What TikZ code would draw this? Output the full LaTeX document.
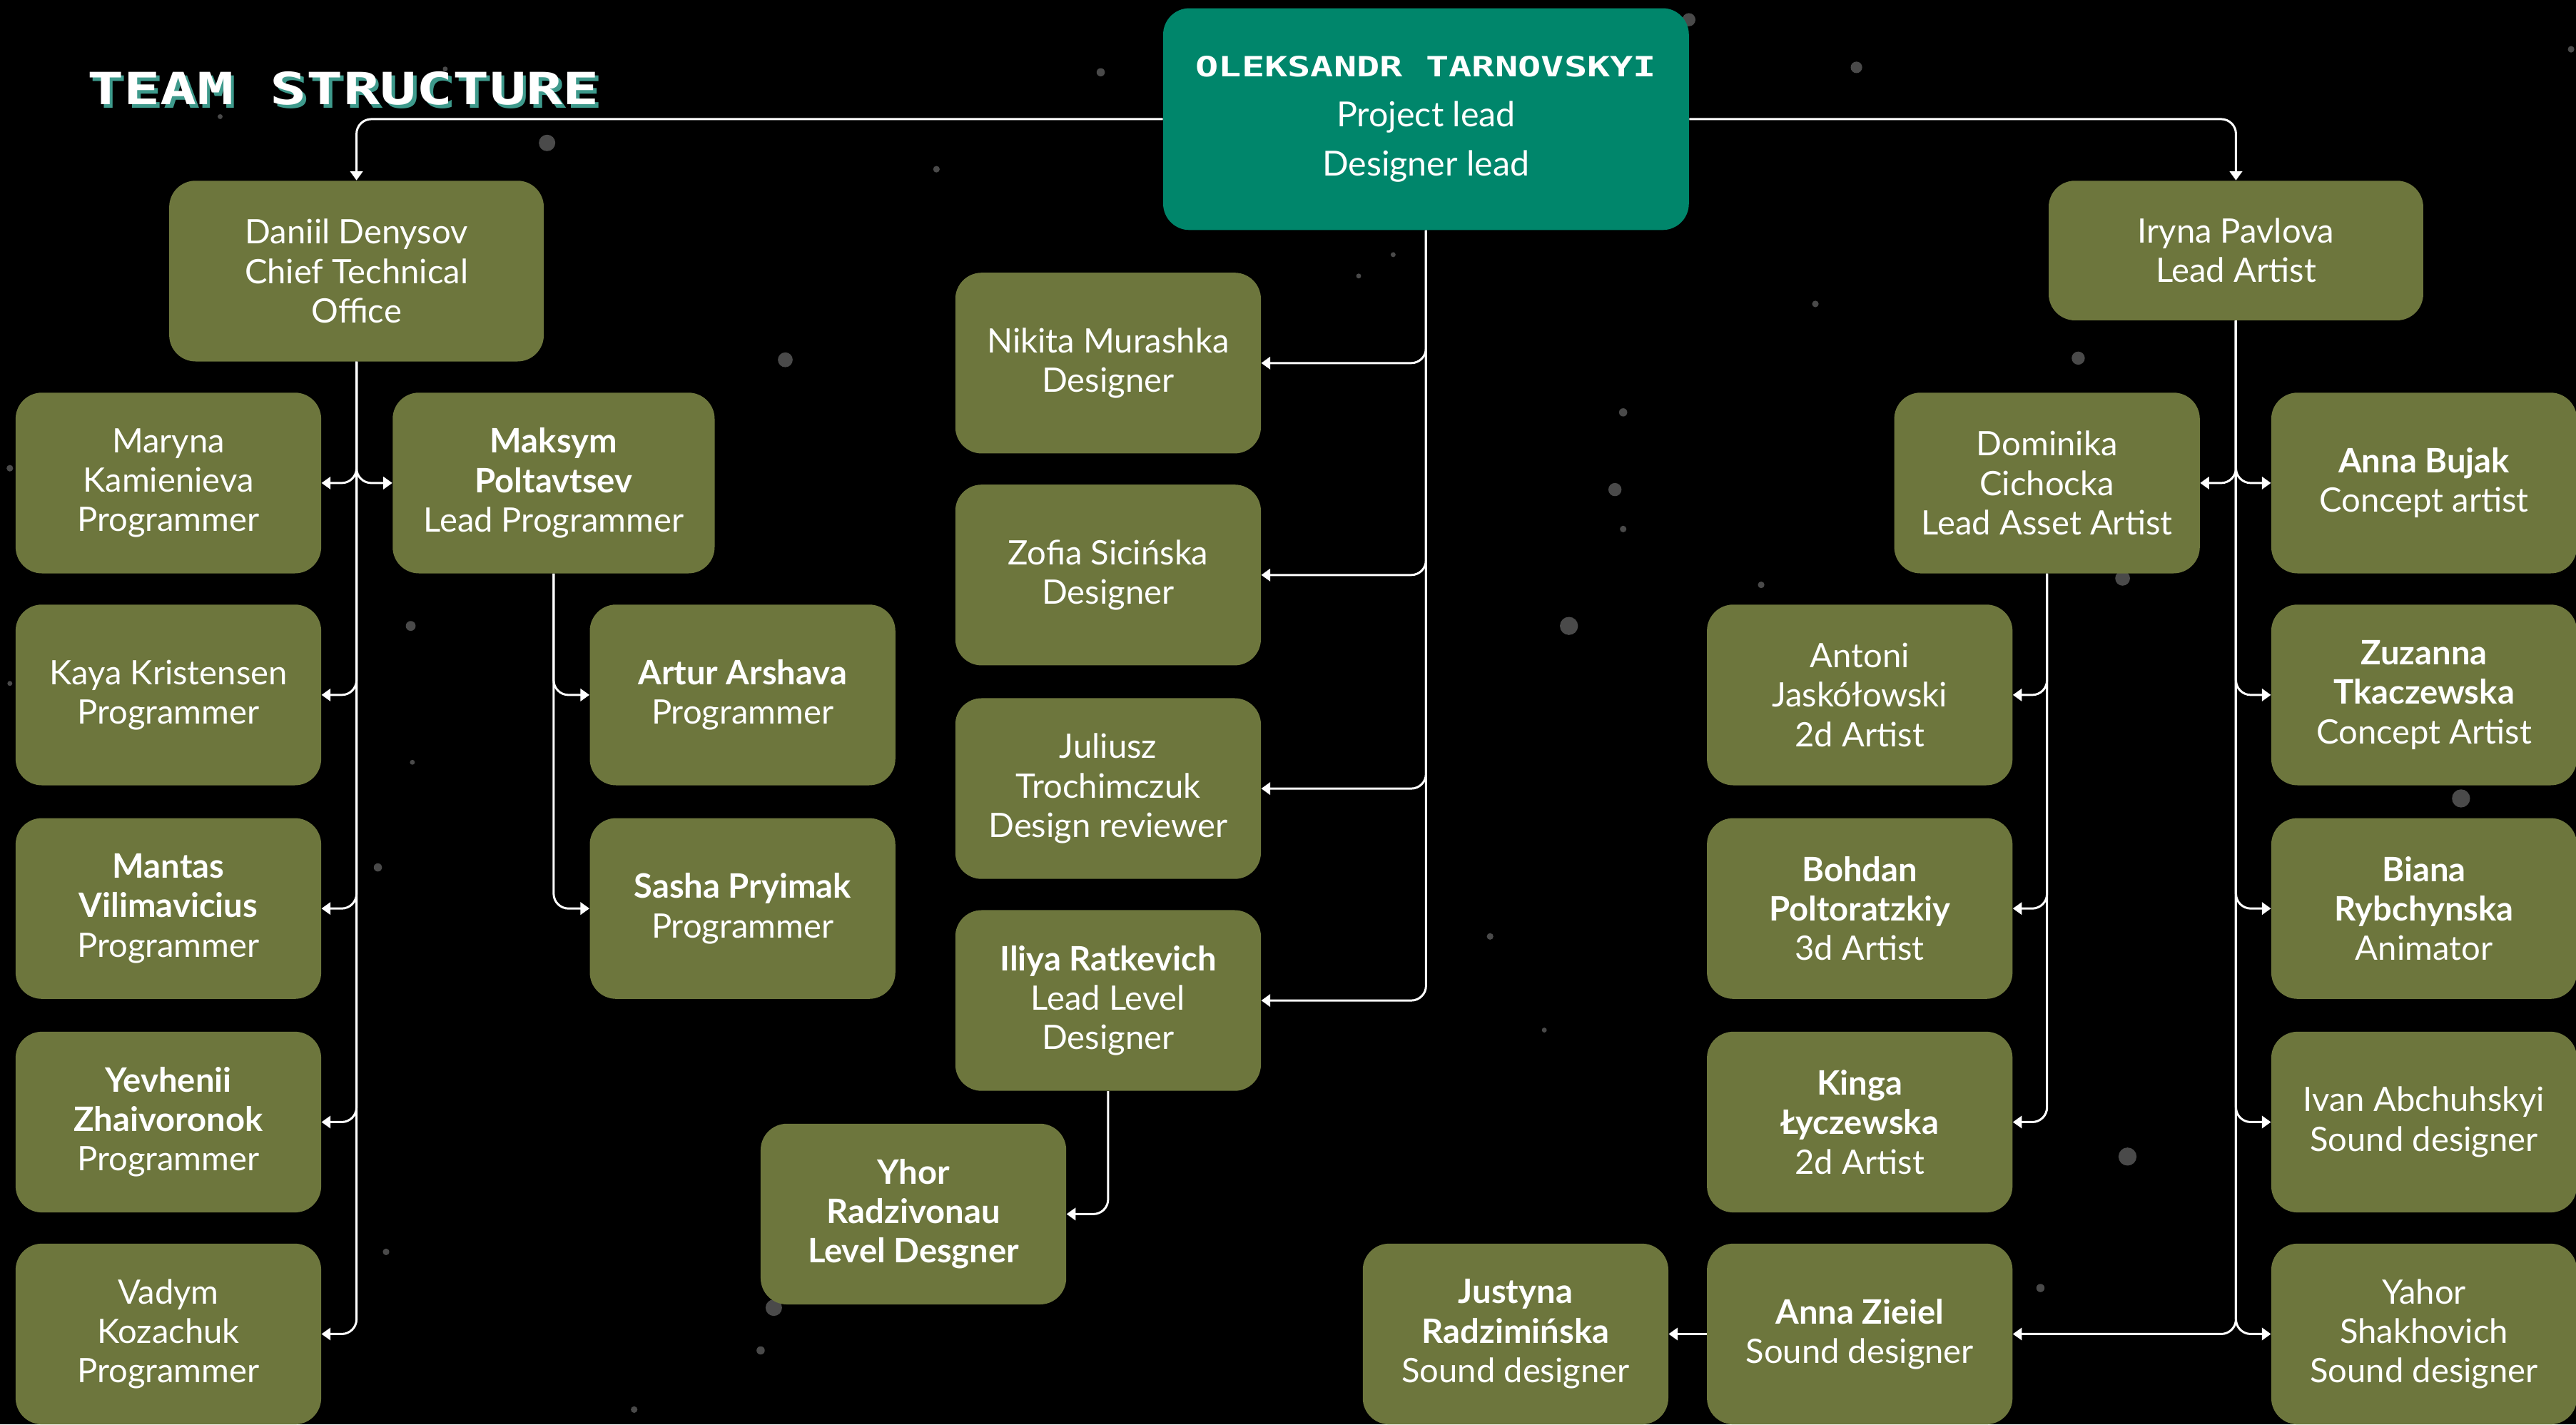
\documentclass[tikz,border=0pt]{standalone}
\usepackage{fontspec}
\setmainfont{Lato}
\newfontfamily\pixfont[FakeStretch=1.37]{DejaVu Sans Mono}
\usetikzlibrary{arrows.meta}
\definecolor{olivebox}{HTML}{6D763D}
\definecolor{tealbox}{HTML}{00866B}
\definecolor{stargrey}{HTML}{4A4A4A}
\definecolor{titleshadow}{HTML}{3E9A8C}
\tikzset{
  card/.style={fill=olivebox, rounded corners=16pt, minimum width=186pt, minimum height=110pt,
    text=white, align=center, font=\fontsize{20.5}{24}\selectfont, inner sep=0pt},
  conn/.style={draw=white, line width=1.3pt, rounded corners=9pt, -{Triangle[width=7.5pt,length=5.5pt]}},
  star/.style={fill=stargrey, draw=none}
}
\begin{document}
\begin{tikzpicture}[x=1pt, y=-1pt]
\useasboundingbox[fill=black] (0,0) rectangle (1568,867);
% stars
\foreach \sx/\sy/\sr in {333/87/5, 670/44/2.5, 570/103/2, 1130/41/3.5, 1265/218/4, 478/219/4.5,
  1105/185/2, 988/251/2.5, 983/298/4, 988/322/2, 955/381/5.5, 1292/352/4.5, 250/381/3,
  230/528/2.5, 251/464/1.5, 1498/486/5.5, 1295/704/5.5, 1242/784/2.5, 907/570/2, 940/627/1.5,
  471/796/5, 463/822/2.5, 386/858/2, 235/762/2, 1028/12/4, 848/155/1.5, 827/168/1.5,
  1072/356/2, 6/285/2, 6/416/1.5, 271/42/1.5, 134/71/1.5, 1565/30/2}
  \fill[star] (\sx,\sy) circle[radius=\sr pt];
% title
\node[text=titleshadow, font=\pixfont\bfseries\fontsize{27}{30}\selectfont] (titleshade) at (211,56) {TEAM STRUCTURE};
\node[text=white, font=\pixfont\bfseries\fontsize{27}{30}\selectfont] (title) at (209,54) {TEAM STRUCTURE};
% top
\node[card, fill=tealbox, minimum width=320pt, minimum height=135pt, font=\fontsize{21}{30}\selectfont] (top) at (868,72.5)
  {{\pixfont\bfseries\fontsize{17}{30}\selectfont OLEKSANDR TARNOVSKYI}\\Project lead\\Designer lead};
% leads
\node[card, minimum width=228pt] (daniil) at (217,165) {Daniil Denysov\\Chief Technical\\Office};
\node[card, minimum width=228pt, minimum height=85pt] (iryna) at (1361,152.5) {Iryna Pavlova\\Lead Artist};
% left column
\node[card] (maryna) at (102.5,294) {Maryna\\Kamienieva\\Programmer};
\node[card] (kaya) at (102.5,423) {Kaya Kristensen\\Programmer};
\node[card] (mantas) at (102.5,553) {\textbf{Mantas}\\\textbf{Vilimavicius}\\Programmer};
\node[card] (yevhenii) at (102.5,683) {\textbf{Yevhenii}\\\textbf{Zhaivoronok}\\Programmer};
\node[card] (vadym) at (102.5,812) {Vadym\\Kozachuk\\Programmer};
\node[card, minimum width=196pt] (maksym) at (337,294) {\textbf{Maksym}\\\textbf{Poltavtsev}\\Lead Programmer};
\node[card] (artur) at (452,423) {\textbf{Artur Arshava}\\Programmer};
\node[card] (sasha) at (452,553) {\textbf{Sasha Pryimak}\\Programmer};
% middle column
\node[card] (nikita) at (674.5,221) {Nikita Murashka\\Designer};
\node[card] (zofia) at (674.5,350) {Zofia Sicińska\\Designer};
\node[card] (juliusz) at (674.5,480) {Juliusz\\Trochimczuk\\Design reviewer};
\node[card] (iliya) at (674.5,609) {\textbf{Iliya Ratkevich}\\Lead Level\\Designer};
\node[card] (yhor) at (556,739) {\textbf{Yhor}\\\textbf{Radzivonau}\\\textbf{Level Desgner}};
% right side
\node[card] (dominika) at (1246,294) {Dominika\\Cichocka\\Lead Asset Artist};
\node[card] (bujak) at (1475.5,294) {\textbf{Anna Bujak}\\Concept artist};
\node[card] (antoni) at (1132,423) {Antoni\\Jaskółowski\\2d Artist};
\node[card] (zuzanna) at (1475.5,423) {\textbf{Zuzanna}\\\textbf{Tkaczewska}\\Concept Artist};
\node[card] (bohdan) at (1132,553) {\textbf{Bohdan}\\\textbf{Poltoratzkiy}\\3d Artist};
\node[card] (biana) at (1475.5,553) {\textbf{Biana}\\\textbf{Rybchynska}\\Animator};
\node[card] (kinga) at (1132,683) {\textbf{Kinga}\\\textbf{Łyczewska}\\2d Artist};
\node[card] (ivan) at (1475.5,683) {Ivan Abchuhskyi\\Sound designer};
\node[card] (zieiel) at (1132,812) {\textbf{Anna Zieiel}\\Sound designer};
\node[card] (justyna) at (922.5,812) {\textbf{Justyna}\\\textbf{Radzimińska}\\Sound designer};
\node[card] (yahor) at (1475.5,812) {Yahor\\Shakhovich\\Sound designer};
% connectors
\draw[conn] (top.west) -| (daniil.north);
\draw[conn] (top.east) -| (iryna.north);
\foreach \t in {nikita,zofia,juliusz,iliya} \draw[conn] (top.south) |- (\t.east);
\foreach \t in {maryna,kaya,mantas,yevhenii,vadym} \draw[conn] (daniil.south) |- (\t.east);
\draw[conn] (daniil.south) |- (maksym.west);
\foreach \t in {artur,sasha} \draw[conn] (maksym.south) |- (\t.west);
\draw[conn] (iliya.south) |- (yhor.east);
\foreach \t in {bujak,zuzanna,biana,ivan,yahor} \draw[conn] (iryna.south) |- (\t.west);
\draw[conn] (iryna.south) |- (dominika.east);
\draw[conn] (iryna.south) |- (zieiel.east);
\foreach \t in {antoni,bohdan,kinga} \draw[conn] (dominika.south) |- (\t.east);
\draw[conn] (zieiel.west) -- (justyna.east);
\end{tikzpicture}
\end{document}
